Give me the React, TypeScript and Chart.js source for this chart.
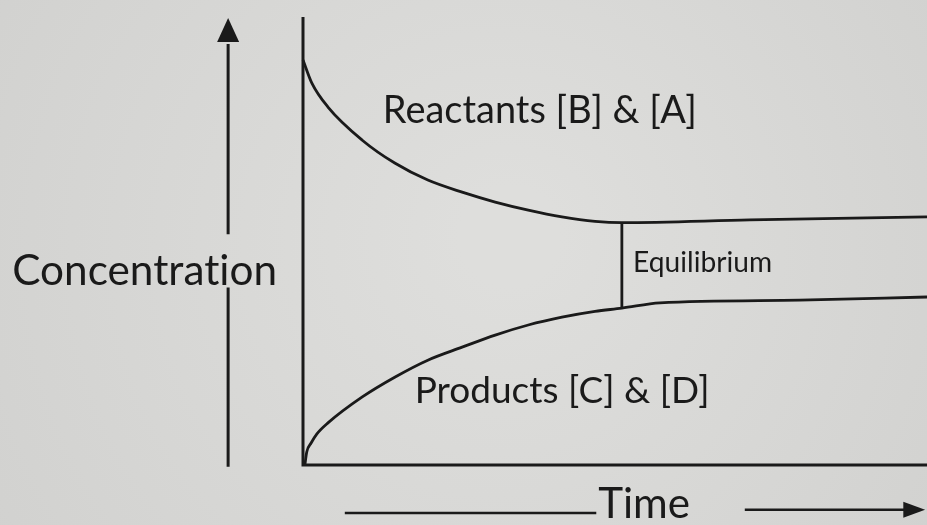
import React, { useEffect, useRef } from "react";
import { Chart, registerables } from "chart.js";
Chart.register(...registerables);

// Reactant concentration over time (relative units)
const reactantTime = [0, 1.4, 4.0, 9.5, 14.7, 20.0, 25.5, 30.8, 36.1, 41.5, 46.8, 51.1, 71.6, 100];
const reactantConc = [90.4, 85.3, 79.9, 72.5, 67.4, 63.6, 60.9, 58.7, 56.9, 55.4, 54.4, 54.1, 54.7, 55.4];
// Product concentration over time
const productTime = [0.3, 0.6, 1.3, 2.2, 4.0, 9.5, 14.7, 20.0, 25.5, 30.8, 36.1, 41.5, 46.8, 51.1, 57.2, 79.6, 100];
const productConc = [0, 2.9, 4.9, 6.9, 9.4, 15.2, 19.6, 23.4, 26.3, 29.0, 31.25, 33.0, 34.3, 35.0, 36.2, 36.8, 37.5];
// Equilibrium marker
const equilibriumTime = [51.1, 51.1];
const equilibriumConc = [54.1, 35.0];

const labelTexts = ["Reactants [B] & [A]", "Products [C] & [D]", "Equilibrium", "Concentration", "Time"];

const INK = "#1a1a1a";
const FONT = "Lato, 'Open Sans', sans-serif";

// annotation placement (data units) and target widths (px)
const annot = [
  { x: 12.8, y: 76.3, w: 314 },
  { x: 17.9, y: 13.8, w: 295 },
  { x: 52.9, y: 43.1, w: 139 },
  { x: -46.6, y: 40.2, w: 265 },
  { x: 47.3, y: -11.8, w: 92 },
];

const toPts = (xs: number[], ys: number[]) => xs.map((x, i) => ({ x, y: ys[i] }));

const decorPlugin = {
  id: "decor",
  beforeDraw(chart: any) {
    const { ctx, width, height } = chart;
    ctx.save();
    const g = ctx.createRadialGradient(width * 0.55, height * 0.45, 50, width * 0.5, height * 0.5, width * 0.7);
    g.addColorStop(0, "#dededc");
    g.addColorStop(1, "#cfcfcd");
    ctx.fillStyle = g;
    ctx.fillRect(0, 0, width, height);
    ctx.restore();
  },
  afterDatasetsDraw(chart: any) {
    const { ctx } = chart;
    const xs = chart.scales.x;
    const ys = chart.scales.y;
    const X = (v: number) => xs.getPixelForValue(v);
    const Y = (v: number) => ys.getPixelForValue(v);
    ctx.save();
    ctx.strokeStyle = INK;
    ctx.fillStyle = INK;
    ctx.lineCap = "butt";
    // axes
    ctx.lineWidth = 3;
    ctx.beginPath();
    ctx.moveTo(X(0), Y(100));
    ctx.lineTo(X(0), Y(0));
    ctx.lineTo(X(100), Y(0));
    ctx.stroke();

    // concentration arrow
    const ax = X(-12);
    ctx.lineWidth = 3;
    ctx.beginPath();
    ctx.moveTo(ax, Y(-0.4));
    ctx.lineTo(ax, Y(39.6));
    ctx.moveTo(ax, Y(51.5));
    ctx.lineTo(ax, Y(94));
    ctx.stroke();
    ctx.beginPath();
    ctx.moveTo(ax, Y(100) + 1);
    ctx.lineTo(ax - 11, Y(94.4));
    ctx.lineTo(ax + 11, Y(94.4));
    ctx.closePath();
    ctx.fill();

    // time arrow
    ctx.lineWidth = 2.5;
    ctx.beginPath();
    ctx.moveTo(X(6.7), Y(-10.7));
    ctx.lineTo(X(47.0), Y(-10.7));
    ctx.moveTo(X(70.8), Y(-10.0));
    ctx.lineTo(X(96.5), Y(-10.0));
    ctx.stroke();
    ctx.beginPath();
    ctx.moveTo(X(99.7), Y(-10.0));
    ctx.lineTo(X(96.2), Y(-10.0) - 8);
    ctx.lineTo(X(96.2), Y(-10.0) + 8);
    ctx.closePath();
    ctx.fill();

    // labels
    ctx.textBaseline = "alphabetic";
    ctx.textAlign = "left";
    try { (ctx as any).letterSpacing = "0.01px"; } catch (e) {}
    labelTexts.forEach((t, i) => {
      const a = annot[i];
      ctx.font = `30px ${FONT}`;
      const m = ctx.measureText(t).width;
      const size = (30 * a.w) / m;
      ctx.font = `${size.toFixed(2)}px ${FONT}`;
      ctx.fillText(t, X(a.x), Y(a.y));
    });
    ctx.restore();
  },
};

export default function App() {
  const ref = useRef<HTMLCanvasElement | null>(null);
  useEffect(() => {
    if (!ref.current) return;
    const lineStyle = {
      borderColor: INK,
      borderWidth: 2.8,
      pointRadius: 0,
      showLine: true,
      fill: false,
      clip: false as any,
    };
    const chart = new Chart(ref.current, {
      type: "scatter",
      data: {
        datasets: [
          { ...lineStyle, label: "Reactants", data: toPts(reactantTime, reactantConc), cubicInterpolationMode: "monotone" },
          { ...lineStyle, label: "Products", data: toPts(productTime, productConc), cubicInterpolationMode: "monotone" },
          { ...lineStyle, label: "Equilibrium", data: toPts(equilibriumTime, equilibriumConc) },
        ] as any,
      },
      options: {
        animation: false,
        responsive: true,
        maintainAspectRatio: false,
        layout: { padding: { left: 303, right: 0, top: 17, bottom: 60 } },
        scales: {
          x: { type: "linear", min: 0, max: 100, display: false },
          y: { type: "linear", min: 0, max: 100, display: false },
        },
        plugins: { legend: { display: false }, tooltip: { enabled: false } },
      },
      plugins: [decorPlugin],
    });
    return () => chart.destroy();
  }, []);
  return (
    <div style={{ position: "fixed", left: 0, top: 0, width: 927, height: 525 }}>
      <canvas ref={ref} />
    </div>
  );
}
